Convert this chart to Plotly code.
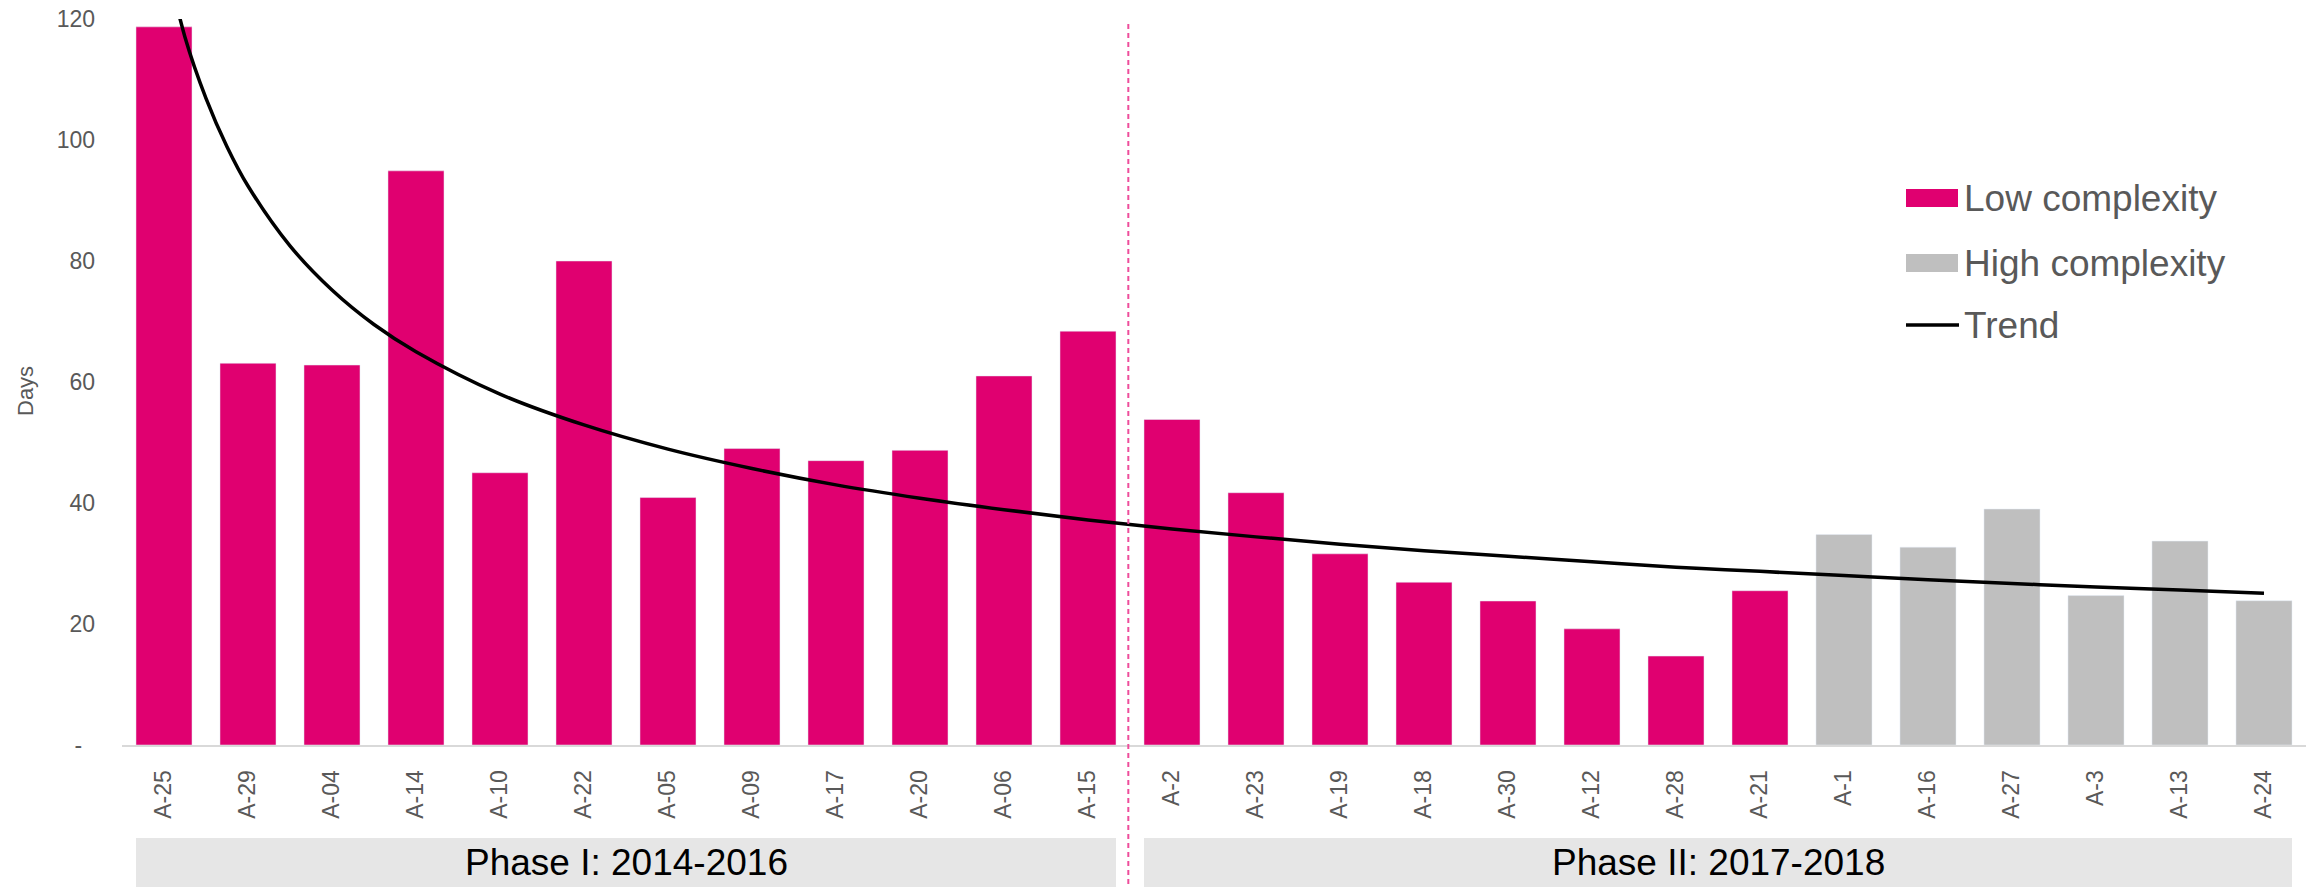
import plotly.graph_objects as go

# ---------------- data ----------------
categories = ["A-25", "A-29", "A-04", "A-14", "A-10", "A-22", "A-05", "A-09", "A-17", "A-20",
              "A-06", "A-15", "A-2", "A-23", "A-19", "A-18", "A-30", "A-12", "A-28", "A-21",
              "A-1", "A-16", "A-27", "A-3", "A-13", "A-24"]
low_complexity = [118.7, 63.1, 62.8, 94.9, 45.0, 80.0, 40.9, 49.0, 47.0, 48.7,
                  61.0, 68.4, 53.8, 41.7, 31.6, 26.9, 23.8, 19.2, 14.7, 25.5]
high_complexity = [34.8, 32.7, 39.0, 24.7, 33.7, 23.85]
# trend curve (position index, days)
trend_x = [0, 0.25, 0.5, 0.75, 1, 1.5, 2, 2.5, 3, 4, 5, 6, 7, 8, 9, 10, 11, 12, 13, 14,
           15, 16, 17, 18, 19, 20, 21, 22, 23, 24, 25]
trend_y = [131.4, 117.0, 106.9, 98.9, 92.4, 82.5, 75.2, 69.5, 65.0, 58.0, 52.9, 48.9, 45.7,
           43.0, 40.8, 38.9, 37.2, 35.7, 34.4, 33.2, 32.1, 31.2, 30.3, 29.4, 28.7, 28.0,
           27.3, 26.7, 26.1, 25.6, 25.1]
y_ticks = [0, 20, 40, 60, 80, 100, 120]
y_ticktext = ["-\u00a0\u00a0", "20", "40", "60", "80", "100", "120"]
phases = ["Phase I: 2014-2016", "Phase II: 2017-2018"]
phase_spans = [(0, 11), (12, 25)]
legend_labels = ["Low complexity", "High complexity", "Trend"]

PINK = "#E00070"
GREY = "#BFBFBF"
FONT = "Liberation Sans, Arial, sans-serif"
TXT = "#595959"

# the page's body margin is removed (post_script below), so figure == page
W, H = 2313, 887
# plot area in pixels: x 122..2306, y 19..745
PL, PR, PT, PB = 122, 2306, 19, 745
ML, MT = PL, PT
MR, MB = W - PR, H - PB
PW, PH = PR - PL, PB - PT
XMIN, XMAX = -0.5, 25.5


def px_x(px):  # pixel -> paper x
    return (px - PL) / PW


def px_y(py):  # pixel -> paper y
    return (PB - py) / PH


def idx_x(i):
    return (i - XMIN) / (XMAX - XMIN)


fig = go.Figure()

x_low = list(range(len(low_complexity)))
x_high = list(range(len(low_complexity), len(low_complexity) + len(high_complexity)))

fig.add_trace(go.Bar(x=x_low, y=low_complexity, marker_color=PINK, width=0.667,
                     name="Low complexity", showlegend=False))
fig.add_trace(go.Bar(x=x_high, y=high_complexity, marker_color=GREY, width=0.667,
                     name="High complexity", showlegend=False))
fig.add_trace(go.Scatter(x=trend_x, y=trend_y, mode="lines",
                         line=dict(color="black", width=3.5, shape="spline"),
                         name="Trend", showlegend=False))

shapes = []
annotations = []

# dashed separator
shapes.append(dict(type="line", xref="paper", yref="paper",
                   x0=idx_x(11.48), x1=idx_x(11.48), y0=px_y(24), y1=px_y(H),
                   line=dict(color="#EE4D9B", width=2, dash="5px,4px")))

# phase bands
for label, (a, b) in zip(phases, phase_spans):
    x0 = idx_x(a - 0.333)
    x1 = idx_x(b + 0.333)
    shapes.append(dict(type="rect", xref="paper", yref="paper",
                       x0=x0, x1=x1, y0=px_y(838), y1=px_y(H),
                       fillcolor="#E6E6E6", line=dict(width=0), layer="below"))
    annotations.append(dict(text=label, xref="paper", yref="paper",
                            x=(x0 + x1) / 2, y=px_y(862), xanchor="center", yanchor="middle",
                            showarrow=False, font=dict(family=FONT, size=37, color="black")))

# legend (manual)
leg_y = [198, 263, 325]
for k, (lab, yy) in enumerate(zip(legend_labels, leg_y)):
    if k < 2:
        shapes.append(dict(type="rect", xref="paper", yref="paper",
                           x0=px_x(1906), x1=px_x(1958), y0=px_y(yy - 9), y1=px_y(yy + 9),
                           fillcolor=PINK if k == 0 else GREY, line=dict(width=0)))
    else:
        shapes.append(dict(type="line", xref="paper", yref="paper",
                           x0=px_x(1906), x1=px_x(1959), y0=px_y(yy), y1=px_y(yy),
                           line=dict(color="black", width=3.5)))
    annotations.append(dict(text=lab, xref="paper", yref="paper", x=px_x(1962), y=px_y(yy),
                            xanchor="left", yanchor="middle", showarrow=False,
                            font=dict(family=FONT, size=37, color=TXT)))

# y-axis title
annotations.append(dict(text="Days", xref="paper", yref="paper", x=px_x(25), y=px_y(391),
                        xanchor="center", yanchor="middle", textangle=-90, showarrow=False,
                        font=dict(family=FONT, size=22, color=TXT)))

fig.update_layout(
    width=W, height=H, autosize=False,
    margin=dict(l=ML, r=MR, t=MT, b=MB, pad=0, autoexpand=False),
    paper_bgcolor="white", plot_bgcolor="white",
    barmode="overlay", showlegend=False, hovermode=False,
    font=dict(family=FONT, color=TXT),
    shapes=shapes, annotations=annotations,
    xaxis=dict(range=[XMIN, XMAX], tickmode="array", tickvals=list(range(len(categories))),
               ticktext=categories, tickangle=-90, tickfont=dict(family=FONT, size=23, color=TXT),
               showline=True, linecolor="#D9D9D9", linewidth=2, showgrid=False, zeroline=False,
               ticks="", ticklabelstandoff=14, automargin=False, fixedrange=True),
    yaxis=dict(range=[0, 120], tickmode="array", tickvals=y_ticks, ticktext=y_ticktext,
               tickfont=dict(family=FONT, size=23, color=TXT), showgrid=False, zeroline=False,
               showline=False, ticks="", ticklabelstandoff=26, ticklabeloverflow="allow",
               automargin=False, fixedrange=True),
)

fig.write_html("out.html", config={"displayModeBar": False},
               post_script="document.body.style.margin='0';document.body.style.overflow='hidden';")
